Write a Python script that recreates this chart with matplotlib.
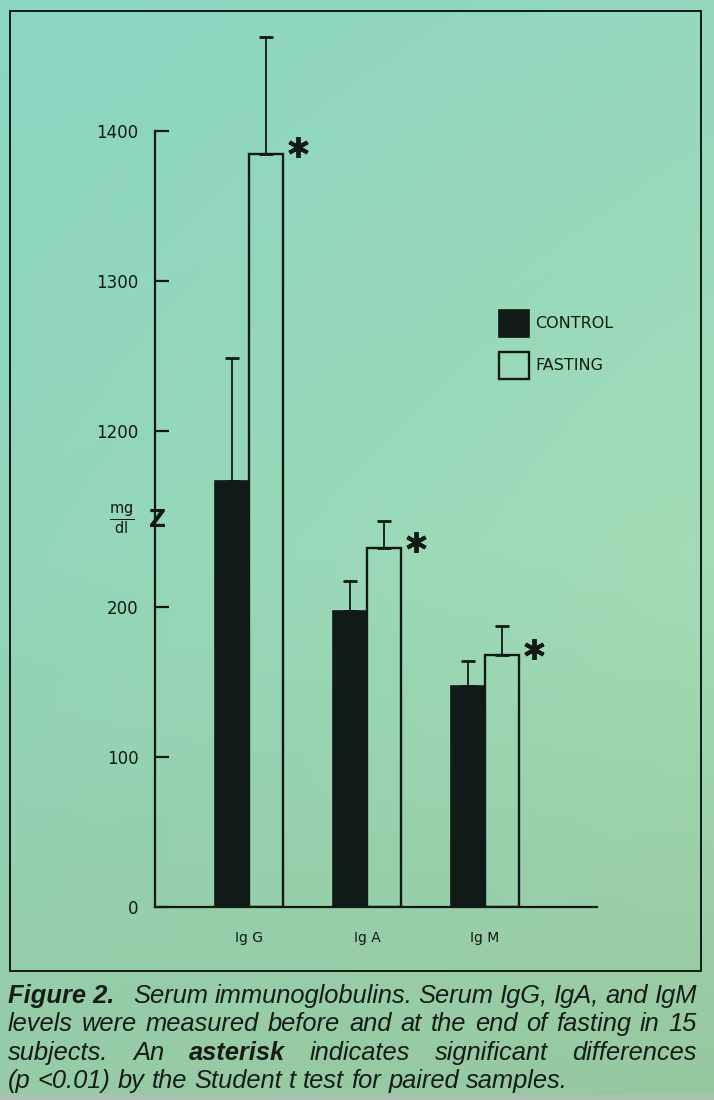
import numpy as np
import matplotlib
matplotlib.use("Agg")
import matplotlib.pyplot as plt
from matplotlib.patches import Rectangle
from matplotlib.transforms import offset_copy

# values (mg/dl)
groups = ["Ig G", "Ig A", "Ig M"]
control_mean = [1167, 197, 147]
control_err = [82, 20, 17]
fasting_mean = [1385, 239, 168]
fasting_err = [78, 18, 19]
significant = [True, True, True]
series_labels = ["CONTROL", "FASTING"]
yticks = [0, 100, 200, 1200, 1300, 1400]

caption_lines = [
    [("Figure 2.", True), ("Serum", False), ("immunoglobulins.", False), ("Serum", False),
     ("IgG,", False), ("IgA,", False), ("and", False), ("IgM", False)],
    [("levels", False), ("were", False), ("measured", False), ("before", False), ("and", False),
     ("at", False), ("the", False), ("end", False), ("of", False), ("fasting", False),
     ("in", False), ("15", False)],
    [("subjects.", False), ("An", False), ("asterisk", True), ("indicates", False),
     ("significant", False), ("differences", False)],
    [("(p", False), ("<0.01)", False), ("by", False), ("the", False), ("Student", False),
     ("t", False), ("test", False), ("for", False), ("paired", False), ("samples.", False)],
]

W, H = 714, 1100
INK = "#111a16"

# broken y axis: the range 258..1141 is squeezed out
BREAK_LO, BREAK_HI, GAP = 258.0, 1141.0, 882.7
_xs = np.array([-1e4, BREAK_LO, BREAK_HI, 1e5])
_ys = np.array([-1e4, BREAK_LO, BREAK_HI - GAP, 1e5 - GAP])


def fwd(v):
    return np.interp(v, _xs, _ys)


def inv(t):
    return np.interp(t, _ys, _xs)


fig = plt.figure(figsize=(W / 100, H / 100), dpi=100)

# scanned-paper background
bg = fig.add_axes([0, 0, 1, 1], zorder=-10)
rows = np.array([
    [[139, 213, 194], [148, 216, 190]],
    [[146, 214, 186], [163, 220, 182]],
    [[150, 203, 165], [150, 200, 160]],
]) / 255.0
yy = np.linspace(0, 2, 220)
xx = np.linspace(0, 1, 140)
img = np.zeros((len(yy), len(xx), 3))
for i, y in enumerate(yy):
    k = min(int(y), 1)
    f = y - k
    left = rows[k, 0] * (1 - f) + rows[k + 1, 0] * f
    right = rows[k, 1] * (1 - f) + rows[k + 1, 1] * f
    img[i] = left[None, :] * (1 - xx[:, None]) + right[None, :] * xx[:, None]
bg.imshow(img, aspect="auto", extent=[0, 1, 0, 1], origin="upper")
bg.set_axis_off()
bg.add_patch(Rectangle((0, 0), 1, 5 / H, color="#aebfb4", transform=bg.transAxes))

ax = fig.add_axes([155 / W, 1 - 907 / H, (597 - 155) / W, (907 - 26) / H])
ax.set_facecolor("none")
ax.set_yscale("function", functions=(fwd, inv))

x = np.arange(len(groups))
w = 0.288
bc = ax.bar(x - w / 2, control_mean, w, color=INK, edgecolor=INK, linewidth=1.2, zorder=3)
bf = ax.bar(x + w / 2, fasting_mean, w, fill=False, edgecolor=INK, linewidth=1.7, zorder=3)
ax.errorbar(x - w / 2, control_mean, yerr=[np.zeros(len(x)), control_err], fmt="none",
            ecolor=INK, elinewidth=1.3, capsize=4.8, capthick=2.0, zorder=2)
ax.errorbar(x + w / 2, fasting_mean, yerr=[np.zeros(len(x)), fasting_err], fmt="none",
            ecolor=INK, elinewidth=1.3, capsize=5.2, capthick=2.0, zorder=2)

# significance asterisks beside the fasting bars
star_tr = offset_copy(ax.transData, fig=fig, x=10.5, y=4.5, units="points")
for xi, m, s in zip(x, fasting_mean, significant):
    if s:
        ax.plot(xi + w, m, marker=(6, 2, 0), ms=15, mew=2.8, color=INK,
                transform=star_tr, clip_on=False)

ax.set_xlim(-0.797, 2.949)
ax.set_ylim(0, 1470)
ax.set_yticks(yticks)
ax.set_yticklabels([str(t) for t in yticks])
ax.set_xticks(x)
ax.set_xticklabels(groups)
ax.tick_params(axis="y", direction="in", length=10, width=1.6, pad=12, labelsize=12,
               colors=INK)
ax.tick_params(axis="x", length=0, pad=17, labelsize=10, colors=INK)
for side in ("top", "right"):
    ax.spines[side].set_visible(False)
ax.spines["left"].set_bounds(0, 1400)
ax.spines["left"].set_linewidth(1.6)
ax.spines["bottom"].set_linewidth(1.6)
ax.spines["left"].set_color(INK)
ax.spines["bottom"].set_color(INK)

# axis break mark and unit label
ytr = ax.get_yaxis_transform()
ax.text(0, BREAK_LO, "Z", transform=offset_copy(ytr, fig=fig, x=2, y=0, units="points"),
        ha="center", va="center", fontsize=17, fontweight="bold", color=INK)
ax.text(0, BREAK_LO, r"$\frac{\mathrm{mg}}{\mathrm{dl}}$",
        transform=offset_copy(ytr, fig=fig, x=-24, y=0, units="points"),
        ha="center", va="center", fontsize=15, color=INK)

fig.legend(handles=[bc, bf], labels=series_labels, loc="upper left",
           bbox_to_anchor=(499 / W, 1 - 310 / H), frameon=False, fontsize=11.5,
           handlelength=1.9, handleheight=2.2, handletextpad=0.35, labelspacing=0.95,
           borderpad=0, borderaxespad=0, labelcolor=INK)

# frame around the figure
fig.add_artist(Rectangle((10 / W, 1 - 971 / H), (701 - 10) / W, (971 - 11) / H,
                         transform=fig.transFigure, fill=False, lw=1.4, ec=INK))

# justified caption
renderer = fig.canvas.get_renderer()
cap_fs = 18.4
cap_left, cap_right = 8, 697
baselines = [1003, 1031, 1060, 1088]
space_px = cap_fs * 100 / 72 * 0.278
for li, (line, base) in enumerate(zip(caption_lines, baselines)):
    texts = []
    for word, bold in line:
        t = fig.text(0, 1 - base / H, word, fontsize=cap_fs, style="italic",
                     fontweight="bold" if bold else "normal", family="Liberation Sans",
                     va="baseline", ha="left", color="#161c18")
        texts.append(t)
    widths = [t.get_window_extent(renderer).width for t in texts]
    weights = [1.0] * (len(texts) - 1)
    if li == 0:
        weights[0] = 3.0
    if li < len(caption_lines) - 1:
        gap = (cap_right - cap_left - sum(widths)) / sum(weights)
    else:
        gap = space_px
    xpos = cap_left
    for t, wd, gw in zip(texts, widths, weights + [0]):
        t.set_x(xpos / W)
        xpos += wd + gap * gw

fig.savefig("out.png", dpi=100)
